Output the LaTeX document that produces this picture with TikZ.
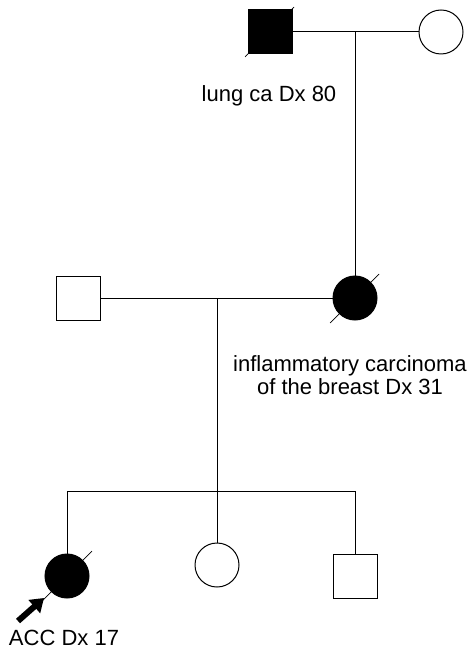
\documentclass[tikz,border=0pt]{standalone}
\usepackage{fontspec}
\setmainfont{Liberation Sans}
\usetikzlibrary{arrows.meta}
\begin{document}
\begin{tikzpicture}[x=1pt,y=-1pt,
  male/.style={draw,line width=1pt,rectangle,minimum size=44pt,inner sep=0pt},
  female/.style={draw,line width=1pt,circle,minimum size=44pt,inner sep=0pt},
  affected/.style={fill=black},
  rel/.style={line width=1pt},
  slash/.style={line width=0.7pt},
  lab/.style={font=\fontsize{22}{26}\selectfont,inner sep=0pt,anchor=base}]
\useasboundingbox (0,0) rectangle (469,652);
% generation I
\node[male,affected] (gf) at (270,32) {};
\node[female] (gm) at (441,32) {};
\draw[rel] (gf.east) -- (gm.west);
\coordinate (c1) at (355,32);
\draw[slash] ([shift={(-25,25)}]gf.center) -- ([shift={(24,-25)}]gf.center);
\node[lab] (l1) at (269,102) {lung ca Dx 80};
% generation II
\node[male] (fa) at (78,298) {};
\node[female,affected] (mo) at (355,298) {};
\draw[rel] (c1) -- (mo.north);
\draw[rel] (fa.east) -- (mo.west);
\coordinate (c2) at (217,298);
\draw[slash] ([shift={(-25,25)}]mo.center) -- ([shift={(24,-24)}]mo.center);
\node[lab] (l2) at (350,371) {inflammatory carcinoma};
\node[lab] (l3) at (350,394) {of the breast Dx 31};
% generation III
\coordinate (s1) at (67,491);
\coordinate (s2) at (217,491);
\coordinate (s3) at (355,491);
\node[female,affected] (pr) at (67,576) {};
\node[female] (si) at (217,565) {};
\node[male] (br) at (355,576) {};
\draw[rel] (c2) -- (s2);
\draw[rel] (pr.north) -- (s1) -- (s3) -- (br.north);
\draw[rel] (s2) -- (si.north);
\draw[slash] ([shift={(-25,25)}]pr.center) -- ([shift={(25,-25)}]pr.center);
\coordinate (at) at (18,621);
\draw[line width=6pt,-{Triangle[length=13pt,width=17pt]}] (at) -- ([shift={(-23,22)}]pr.center);
\node[lab] (l4) at (64,645) {ACC Dx 17};
\end{tikzpicture}
\end{document}
